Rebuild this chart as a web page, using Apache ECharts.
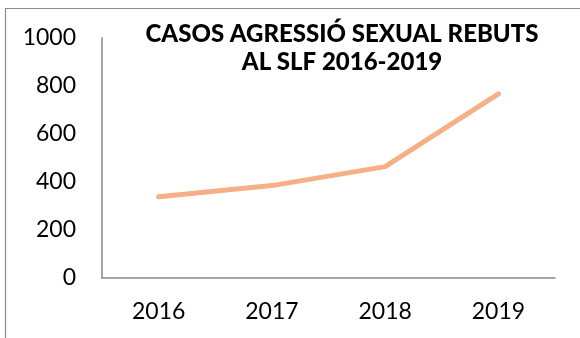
<!DOCTYPE html>
<html>
<head>
<meta charset="utf-8">
<script src="https://cdn.jsdelivr.net/npm/echarts@6/dist/echarts.min.js"></script>
<style>
  html, body { margin: 0; padding: 0; background: #fff; }
  #chart { width: 580px; height: 338px; }
</style>
</head>
<body>
<div id="chart"></div>
<script>
// Cases received per year
const years = ['2016', '2017', '2018', '2019'];
const cases = [339, 385, 464, 767];
const yTicks = [0, 200, 400, 600, 800, 1000];

const chart = echarts.init(document.getElementById('chart'), null, { renderer: 'canvas' });

const font = 'Lato, "Open Sans", sans-serif';
const axisGrey = '#898989';

chart.setOption({
  animation: false,
  backgroundColor: '#ffffff',
  title: {
    text: 'CASOS AGRESSIÓ SEXUAL REBUTS\nAL SLF 2016-2019',
    left: 337,
    top: 15,
    textAlign: 'center',
    textStyle: {
      fontFamily: font,
      fontWeight: 900,
      fontSize: 24,
      lineHeight: 28,
      color: '#000'
    }
  },
  grid: { left: 102, right: 25, top: 38, bottom: 60, containLabel: false },
  xAxis: {
    type: 'category',
    data: years,
    boundaryGap: true,
    axisLine: { show: true, lineStyle: { color: axisGrey, width: 1.5 } },
    axisTick: { show: false },
    axisLabel: { margin: 22, fontFamily: font, fontSize: 23, lineHeight: 24, color: '#000' },
    splitLine: { show: false }
  },
  yAxis: {
    type: 'value',
    min: yTicks[0],
    max: yTicks[yTicks.length - 1],
    interval: yTicks[1] - yTicks[0],
    axisLine: { show: true, lineStyle: { color: axisGrey, width: 1.5 } },
    axisTick: { show: false },
    axisLabel: { margin: 26, fontFamily: font, fontSize: 23, color: '#000', formatter: v => String(v) },
    splitLine: { show: false }
  },
  series: [{
    type: 'line',
    data: cases,
    symbol: 'none',
    lineStyle: { color: '#F6B085', width: 5, cap: 'round', join: 'round' }
  }],
  graphic: [
    { type: 'line', shape: { x1: 5, y1: 8.5, x2: 580, y2: 8.5 }, style: { stroke: '#8c8c8c', lineWidth: 1.2 } },
    { type: 'line', shape: { x1: 5.5, y1: 8, x2: 5.5, y2: 338 }, style: { stroke: '#8c8c8c', lineWidth: 1.2 } }
  ]
});
</script>
</body>
</html>
